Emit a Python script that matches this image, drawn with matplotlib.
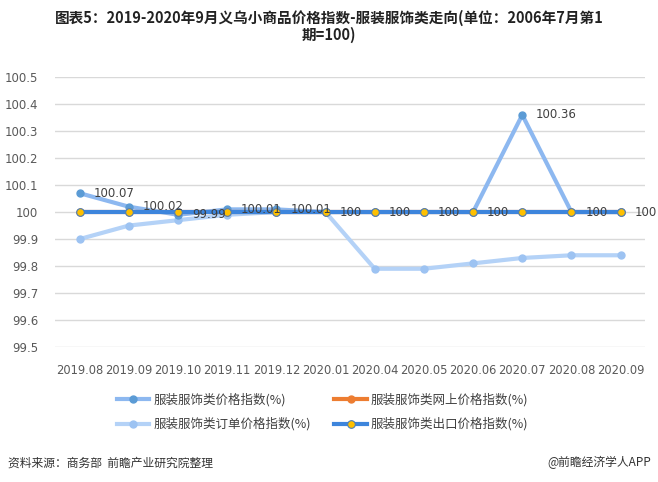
import matplotlib
matplotlib.use("Agg")
import matplotlib.pyplot as plt
from matplotlib.lines import Line2D

plt.rcParams['font.family'] = ['Noto Sans CJK SC', 'DejaVu Sans']

categories = ["2019.08", "2019.09", "2019.10", "2019.11", "2019.12", "2020.01",
              "2020.04", "2020.05", "2020.06", "2020.07", "2020.08", "2020.09"]
price_index = [100.07, 100.02, 99.99, 100.01, 100.01, 100, 100, 100, 100, 100.36, 100, 100]
online_index = [100, 100, 100, 100, 100, 100, 100, 100, 100, 100, 100, 100]
order_index = [99.90, 99.95, 99.97, 99.99, 100.0, 100.0, 99.79, 99.79, 99.81, 99.83, 99.84, 99.84]
export_index = [100, 100, 100, 100, 100, 100, 100, 100, 100, 100, 100, 100]
yticks = [99.5, 99.6, 99.7, 99.8, 99.9, 100, 100.1, 100.2, 100.3, 100.4, 100.5]
ytick_labels = ["99.5", "99.6", "99.7", "99.8", "99.9", "100", "100.1", "100.2", "100.3", "100.4", "100.5"]
names = ["服装服饰类价格指数(%)", "服装服饰类网上价格指数(%)", "服装服饰类订单价格指数(%)", "服装服饰类出口价格指数(%)"]

fig = plt.figure(figsize=(6.58, 4.82), dpi=100)
ax = fig.add_axes([0.0836, 0.280, 0.897, 0.560])
x = list(range(len(categories)))

c1_line, c1_mk = "#8DB8F0", "#5B9BD5"
c3_line, c3_mk = "#B4D2F7", "#9DC3F2"
c4_line, c4_mk = "#3D85DC", "#FFC000"
c2 = "#ED7D31"

ax.plot(x, order_index, color=c3_line, lw=3, marker='o', ms=5, mfc=c3_mk, mec=c3_mk, zorder=2, solid_capstyle='round')
ax.plot(x, price_index, color=c1_line, lw=3, marker='o', ms=5, mfc=c1_mk, mec=c1_mk, zorder=3, solid_capstyle='round')
ax.plot(x, online_index, color=c2, lw=3, marker='o', ms=5, mfc=c2, mec=c2, zorder=3.5)
ax.plot(x, export_index, color=c4_line, lw=3, marker='o', ms=5.5, mfc=c4_mk, mec="#4A7EBB", mew=0.8, zorder=4)

for xi, v in zip(x, price_index):
    lab = "100" if v == 100 else f"{v:.2f}"
    ax.annotate(lab, (xi, v), xytext=(10, 0), textcoords='offset points', ha='left', va='center',
                fontsize=8.5, color="#404040", zorder=5, family=['DejaVu Sans'])

ax.set_xlim(-0.5, len(categories) - 0.5)
ax.set_ylim(99.5, 100.5)
ax.set_yticks(yticks)
ax.set_yticklabels(ytick_labels)
ax.set_xticks(x)
ax.set_xticklabels(categories)
ax.grid(axis='y', color="#D9D9D9", lw=1)
ax.set_axisbelow(True)
for s in ax.spines.values():
    s.set_visible(False)
ax.tick_params(axis='both', length=0, colors="#595959", labelsize=8.5)
ax.tick_params(axis='x', pad=12, labelsize=8.3)
ax.tick_params(axis='y', pad=12)
for t in ax.get_yticklabels() + ax.get_xticklabels():
    t.set_family(['DejaVu Sans'])

h1 = Line2D([], [], color=c1_line, lw=3, marker='o', ms=5, mfc=c1_mk, mec=c1_mk)
h2 = Line2D([], [], color=c2, lw=3, marker='o', ms=5, mfc=c2, mec=c2)
h3 = Line2D([], [], color=c3_line, lw=3, marker='o', ms=5, mfc=c3_mk, mec=c3_mk)
h4 = Line2D([], [], color=c4_line, lw=3, marker='o', ms=5.5, mfc=c4_mk, mec="#4A7EBB", mew=0.8)
# matplotlib fills legend columns first; order so rows read: price, online / order, export
leg = fig.legend([h1, h3, h2, h4], [names[0], names[2], names[1], names[3]], ncol=2, loc='center',
                 bbox_to_anchor=(0.49, 0.145), frameon=False, fontsize=9, handlelength=2.6,
                 columnspacing=1.9, labelspacing=0.85, handletextpad=0.3)
for t in leg.get_texts():
    t.set_color("#404040")

fig.text(0.5, 0.945, "图表5：2019-2020年9月义乌小商品价格指数-服装服饰类走向(单位：2006年7月第1\n期=100)",
         ha='center', va='center', fontsize=10.5, fontweight='bold', color="#222222", linespacing=1.1)
fig.text(0.012, 0.04, "资料来源：商务部  前瞻产业研究院整理", ha='left', va='center', fontsize=8.5, color="#333333")
fig.text(0.99, 0.04, "@前瞻经济学人APP", ha='right', va='center', fontsize=8.5, color="#333333")

fig.savefig("out.png", dpi=100)
